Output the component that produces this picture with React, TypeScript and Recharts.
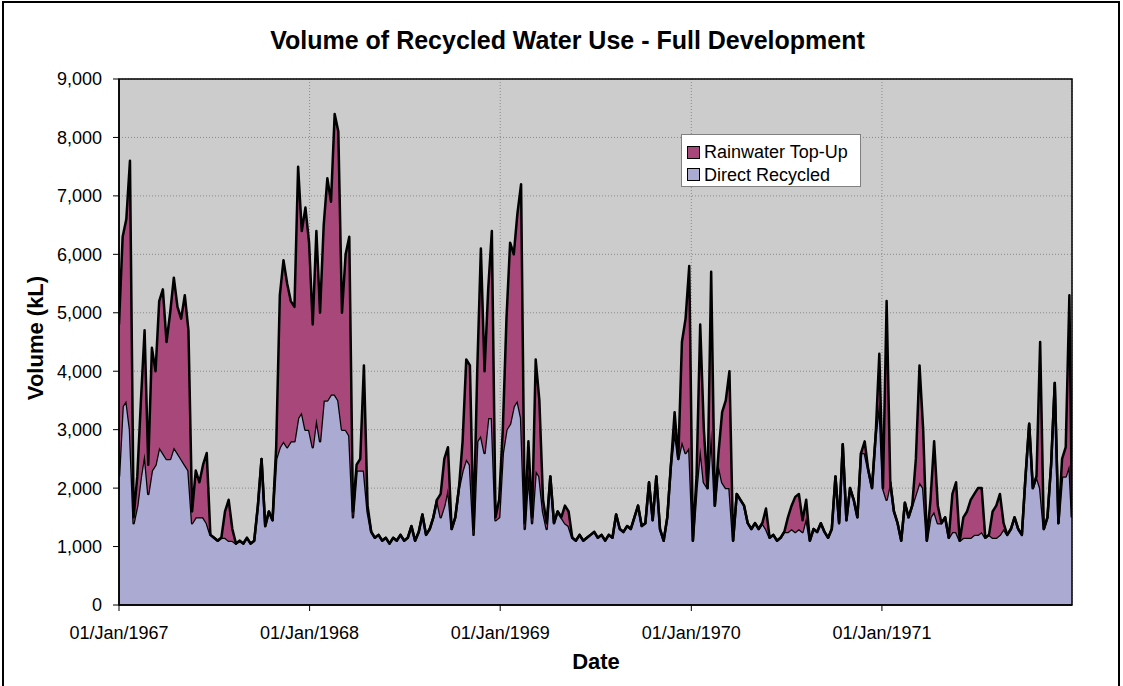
import { AreaChart, Area, XAxis, YAxis, CartesianGrid, Legend, ReferenceArea } from "recharts"

const FONT = "Arial, 'Liberation Sans', sans-serif"

// x axis: days since 01/Jan/1967, one reading per week
const yearTicks = [0, 365, 730, 1096, 1461]
const yearLabels = ["01/Jan/1967", "01/Jan/1968", "01/Jan/1969", "01/Jan/1970", "01/Jan/1971"]
const volumeTicks = [0, 1000, 2000, 3000, 4000, 5000, 6000, 7000, 8000, 9000]

const seriesColors: Record<string, string> = {
  "Direct Recycled": "#aaaad2",
  "Rainwater Top-Up": "#a8487a",
}

// kL
const directRecycled = [
  2200, 3400, 3500, 3000, 1400, 1700, 2200, 2600, 1900, 2300, 2400, 2700, 2600, 2500, 2500, 2700, 2600, 2500, 2400, 2300,
  1400, 1500, 1500, 1500, 1400, 1200, 1150, 1100, 1150, 1150, 1100, 1100, 1050, 1100, 1050, 1150, 1050, 1100, 1700, 2500,
  1350, 1600, 1450, 2500, 2700, 2800, 2700, 2800, 2800, 3200, 3300, 3000, 3000, 2700, 3200, 2800, 3500, 3500, 3600, 3600,
  3500, 3000, 3000, 2900, 1500, 2300, 2300, 2300, 1600, 1250, 1150, 1200, 1100, 1150, 1050, 1150, 1100, 1200, 1100, 1150,
  1350, 1100, 1250, 1550, 1200, 1300, 1500, 1800, 1500, 1700, 2000, 1300, 1500, 2000, 2300, 2500, 2400, 1200, 2800, 2900,
  2600, 3200, 3200, 1450, 1500, 2600, 3000, 3100, 3400, 3500, 3200, 1300, 2300, 1400, 2300, 2200, 1600, 1300, 2200, 1400,
  1600, 1500, 1400, 1350, 1150, 1100, 1200, 1100, 1150, 1200, 1250, 1150, 1200, 1100, 1200, 1150, 1550, 1300, 1250, 1350,
  1300, 1500, 1700, 1350, 1400, 2100, 1450, 2200, 1300, 1100, 1500, 2400, 3000, 2500, 2800, 2600, 2700, 1100, 2000, 2700,
  2100, 2000, 3000, 1700, 2400, 2100, 2000, 2000, 1100, 1900, 1800, 1700, 1400, 1300, 1400, 1300, 1400, 1300, 1150, 1200,
  1100, 1150, 1250, 1250, 1300, 1250, 1300, 1250, 1500, 1100, 1300, 1250, 1400, 1250, 1150, 1300, 2200, 1400, 2750, 1450,
  2000, 1800, 1500, 2600, 2600, 2300, 2000, 2900, 3500, 2000, 1800, 2100, 1600, 1400, 1100, 1750, 1500, 1700, 1900, 2100,
  2000, 1100, 1500, 1600, 1400, 1400, 1500, 1150, 1250, 1250, 1100, 1150, 1150, 1150, 1200, 1200, 1250, 1150, 1200, 1150,
  1150, 1200, 1300, 1200, 1300, 1500, 1300, 1200, 2200, 3100, 2000, 2200, 2000, 1300, 1500, 2400, 3800, 1400, 2200, 2200,
  2400, 1500,
]

const rainwaterTopUp = [
  2600, 2900, 3100, 4600, 100, 500, 1300, 2100, 500, 2100, 1600, 2500, 2800, 2000, 2500, 2900, 2500, 2400, 2900, 2400,
  200, 800, 600, 900, 1200, 0, 0, 0, 0, 450, 700, 200, 0, 0, 0, 0, 0, 0, 0, 0,
  0, 0, 0, 200, 2600, 3100, 2800, 2400, 2300, 4300, 3100, 3800, 3200, 2100, 3200, 2200, 3000, 3800, 3300, 4800,
  4600, 2000, 3000, 3400, 100, 100, 200, 1800, 100, 0, 0, 0, 0, 0, 0, 0, 0, 0, 0, 0,
  0, 0, 0, 0, 0, 0, 0, 0, 400, 800, 700, 0, 0, 0, 500, 1700, 1700, 100, 1200, 3200,
  1400, 2200, 3200, 50, 300, 400, 1900, 3100, 2600, 3200, 4000, 100, 500, 100, 1900, 1300, 200, 100, 0, 0,
  0, 0, 300, 250, 0, 0, 0, 0, 0, 0, 0, 0, 0, 0, 0, 0, 0, 0, 0, 0,
  0, 0, 0, 0, 0, 0, 0, 0, 0, 0, 0, 0, 300, 0, 1700, 2300, 3100, 0, 200, 2100,
  900, 0, 2700, 0, 200, 1200, 1500, 2000, 0, 0, 0, 0, 0, 0, 0, 0, 0, 350, 0, 0,
  0, 0, 0, 250, 400, 600, 600, 200, 300, 0, 0, 0, 0, 0, 0, 0, 0, 0, 0, 0,
  0, 0, 0, 0, 200, 0, 0, 0, 800, 0, 3400, 0, 0, 0, 0, 0, 0, 0, 600, 2000,
  1000, 0, 300, 1200, 300, 0, 0, 0, 650, 850, 0, 350, 450, 650, 700, 800, 750, 0, 0, 450,
  550, 700, 100, 0, 0, 0, 0, 0, 0, 0, 0, 0, 2500, 0, 0, 0, 0, 0, 300, 500,
  2900, 0,
]

const chartData = directRecycled.map((direct, i) => ({
  day: Math.min(i * 7, 1825),
  direct,
  rain: rainwaterTopUp[i],
}))

const renderLegend = ({ payload }: any) => {
  const items = [...(payload || [])].reverse()
  return (
    <div
      style={{
        background: "#fff",
        border: "1px solid #808080",
        boxSizing: "border-box",
        width: 180,
        height: 53,
        padding: "6px 0 0 5px",
        fontFamily: FONT,
        fontSize: 18,
        color: "#000",
      }}
    >
      {items.map((entry: any) => (
        <div key={entry.value} style={{ display: "flex", alignItems: "center", height: 22.5 }}>
          <span
            style={{
              display: "inline-block",
              width: 13,
              height: 13,
              boxSizing: "border-box",
              background: seriesColors[entry.value],
              border: "1.5px solid #000",
              marginRight: 4,
            }}
          />
          <span style={{ lineHeight: "20px" }}>{entry.value}</span>
        </div>
      ))}
    </div>
  )
}

export default function App() {
  return (
    <div style={{ position: "fixed", left: 0, top: 0, width: 1123, height: 686, background: "#fff", overflow: "hidden" }}>
      <div
        style={{
          position: "absolute",
          left: 2,
          top: 1,
          width: 1118,
          height: 720,
          border: "2px solid #000",
          boxSizing: "border-box",
        }}
      />
      <div
        style={{
          position: "absolute",
          left: 0,
          width: 1135,
          top: 28,
          textAlign: "center",
          fontFamily: FONT,
          fontWeight: "bold",
          fontSize: 25,
          lineHeight: "25px",
          whiteSpace: "nowrap",
        }}
      >
        Volume of Recycled Water Use - Full Development
      </div>
      <div
        style={{
          position: "absolute",
          left: 35.5,
          top: 338,
          transform: "translate(-50%, -50%) rotate(-90deg)",
          fontFamily: FONT,
          fontWeight: "bold",
          fontSize: 22,
          lineHeight: "22px",
          whiteSpace: "nowrap",
        }}
      >
        Volume (kL)
      </div>
      <div
        style={{
          position: "absolute",
          left: 596,
          top: 651,
          transform: "translateX(-50%)",
          fontFamily: FONT,
          fontWeight: "bold",
          fontSize: 22,
          lineHeight: "22px",
        }}
      >
        Date
      </div>
      <div style={{ position: "absolute", left: 0, top: 0 }}>
        <AreaChart width={1123} height={686} data={chartData} margin={{ top: 79, right: 51, left: 59, bottom: 51 }}>
          <CartesianGrid stroke="#8a8a8a" strokeDasharray="1 2" fill="#cccccc" fillOpacity={1} />
          <XAxis
            dataKey="day"
            type="number"
            domain={[0, 1825]}
            ticks={yearTicks}
            tickFormatter={(v: number) => yearLabels[yearTicks.indexOf(v)] ?? ""}
            height={30}
            tickSize={6}
            tickMargin={15}
            interval={0}
            allowDataOverflow
            axisLine={{ stroke: "#000", strokeWidth: 1.5 }}
            tickLine={{ stroke: "#000" }}
            tick={{ fill: "#000", fontSize: 18, fontFamily: FONT }}
          />
          <YAxis
            type="number"
            domain={[0, 9000]}
            ticks={volumeTicks}
            interval={0}
            width={60}
            tickSize={6}
            tickMargin={11}
            tickFormatter={(v: number) => v.toLocaleString("en-US")}
            axisLine={{ stroke: "#000", strokeWidth: 1.5 }}
            tickLine={{ stroke: "#000" }}
            tick={{ fill: "#000", fontSize: 18, fontFamily: FONT }}
          />
          <Legend
            layout="vertical"
            align="center"
            verticalAlign="middle"
            content={renderLegend}
            wrapperStyle={{ left: 681, top: 134, width: 180, height: 53 }}
          />
          <Area
            type="linear"
            dataKey="direct"
            name="Direct Recycled"
            stackId="vol"
            stroke="#000"
            strokeWidth={2.5}
            strokeLinejoin="round"
            fill="#aaaad2"
            fillOpacity={1}
            dot={false}
            activeDot={false}
            isAnimationActive={false}
          />
          <Area
            type="linear"
            dataKey="rain"
            name="Rainwater Top-Up"
            stackId="vol"
            stroke="#000"
            strokeWidth={2.5}
            strokeLinejoin="round"
            fill="#a8487a"
            fillOpacity={1}
            dot={false}
            activeDot={false}
            isAnimationActive={false}
          />
          <ReferenceArea x1={0} x2={1825} y1={0} y2={9000} fill="none" stroke="#000" strokeWidth={1.5} ifOverflow="visible" />
        </AreaChart>
      </div>
    </div>
  )
}
